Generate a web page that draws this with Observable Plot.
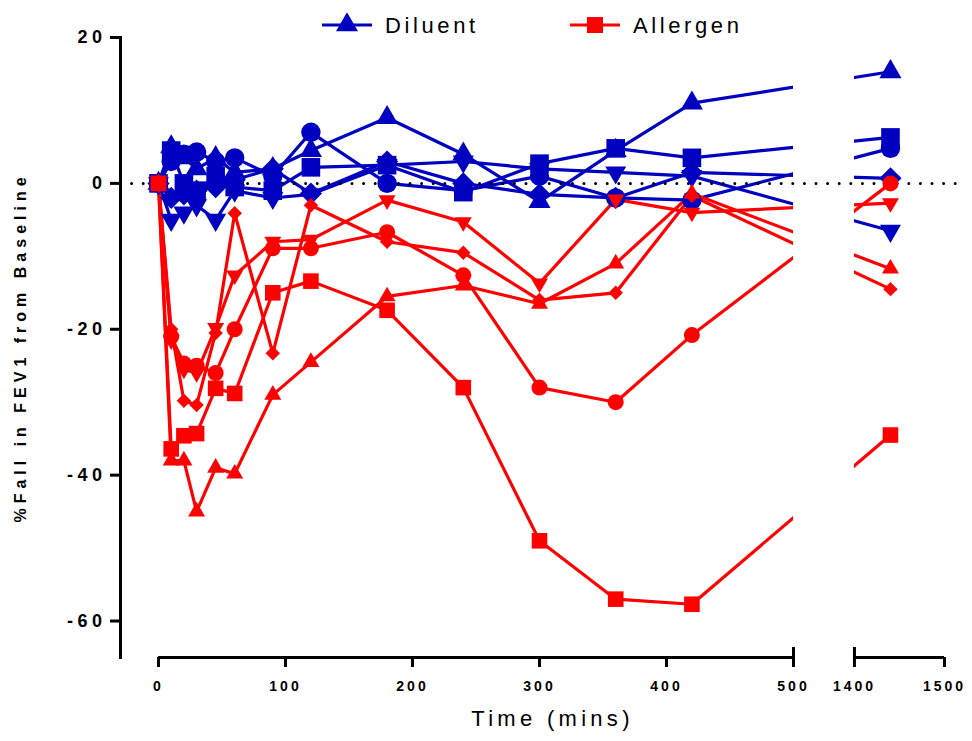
<!DOCTYPE html>
<html>
<head>
<meta charset="utf-8">
<script src="https://cdn.jsdelivr.net/npm/d3@7"></script>
<script src="https://cdn.jsdelivr.net/npm/@observablehq/plot@0.6"></script>
<style>
  html, body { margin: 0; padding: 0; background: #fff; }
  #wrap { position: relative; width: 972px; height: 741px; font-family: "Liberation Sans", Arial, sans-serif; }
  #legend { position: absolute; left: 0; top: 0; }
  #chart { position: absolute; left: 0; top: 0; }
  g[aria-label="y-axis tick label"] text { letter-spacing: 4.5px; }
  g[aria-label="x-axis tick label"] text { letter-spacing: 3px; }
</style>
</head>
<body>
<div id="wrap">
  <div id="chart"></div>
  <div id="legend"></div>
</div>
<script>
// ---- data ----
const times = [0, 10, 20, 30, 45, 60, 90, 120, 180, 240, 300, 360, 420, 1440];

const diluentTriangle = [0, 5, 3.5, 2, 3.5, 1.5, 2, 4.5, 9, 4, -2.5, 4.5, 11, 15.3];
const diluentSquare   = [0, 4.5, 0, -1, 1, -0.5, -1, 2.2, 2.5, -1.2, 2.7, 4.8, 3.5, 6.3];
const diluentCircle   = [0, 3, 4, 4.3, 3, 3.5, 1, 7, 0, -1, 1, -2, -2.3, 4.8];
const diluentTriDown  = [0, -5, -4, -3, -5, -1, -2, -1.5, 2.5, 3, 2, 1.5, 1, -6.5];
const diluentDiamond  = [0, -2, -1.5, -1, -0.5, 0.5, 2, -1.4, 3, 0, -1.5, -2, 1.5, 0.7];

const allergenSquare   = [0, -36.4, -34.6, -34.3, -28.1, -28.8, -15, -13.4, -17.4, -28, -49, -57, -57.7, -34.5];
const allergenTriangle = [0, -38, -38, -45, -39, -39.8, -29, -24.5, -15.5, -14, -16.5, -11, -1.4, -11.7];
const allergenCircle   = [0, -21, -24.7, -25, -26, -20, -8.9, -8.9, -6.7, -12.6, -28, -30, -20.8, 0];
const allergenTriDown  = [0, -21.5, -25.5, -26, -19.8, -12.6, -8, -7.7, -2.3, -5.3, -13.7, -2.2, -4, -2.7];
const allergenDiamond  = [0, -20, -29.8, -30.4, -20.5, -4.1, -23.3, -3, -8, -9.5, -16, -15, -1.7, -14.5];

const xTicks = [0, 100, 200, 300, 400, 500, 1400, 1500];
const yTicks = [20, 0, -20, -40, -60];
const xDomainEnd = 1500;
const breakStart = 500;
const breakEnd = 1400;
const yMin = -65;
const yMax = 20;

const groupLabels = ["Diluent", "Allergen"];
const xLabel = "Time (mins)";
const yLabel = "%Fall in FEV1 from Baseline";

// ---- broken-axis transform (scale setting, not data) ----
const gapUnits = 48;
const secondSegmentRatio = 0.709;
const brokenX = (t) => t <= breakStart ? t : breakStart + gapUnits + (t - breakEnd) * secondSegmentRatio;
const tickLabelOf = new Map(xTicks.map(t => [brokenX(t), String(t)]));

// ---- styles ----
const BLUE = "#0000c0";
const RED = "#ff0000";
const groups = [
  { name: "Diluent", color: BLUE, series: [
    { values: diluentTriangle, symbol: "triangle", r: 8.2, rotate: 0 },
    { values: diluentSquare,   symbol: "square",   r: 10.5, rotate: 0 },
    { values: diluentCircle,   symbol: "circle",   r: 9.7, rotate: 0 },
    { values: diluentTriDown,  symbol: "triangle", r: 7.8, rotate: 180 },
    { values: diluentDiamond,  symbol: "diamond2", r: 10, rotate: 0 }
  ]},
  { name: "Allergen", color: RED, series: [
    { values: allergenSquare,   symbol: "square",   r: 8.8, rotate: 0 },
    { values: allergenTriangle, symbol: "triangle", r: 6.3, rotate: 0 },
    { values: allergenCircle,   symbol: "circle",   r: 8, rotate: 0 },
    { values: allergenTriDown,  symbol: "triangle", r: 6.3, rotate: 180 },
    { values: allergenDiamond,  symbol: "diamond2", r: 6.5, rotate: 0 }
  ]}
];

const seriesMarks = [];
for (const g of groups) {
  g.series.forEach((s) => {
    const rows = times.map((t, k) => ({ time: t, value: s.values[k] }));
    seriesMarks.push({ rows, g, s });
  });
}

const marks = [];
for (const g of groups) {
  for (const sm of seriesMarks.filter(d => d.g === g)) {
    marks.push(Plot.line(sm.rows, { x: "time", y: "value", stroke: g.color, strokeWidth: 3.2 }));
  }
}
marks.push(Plot.rect([{ a: breakStart, b: breakEnd }], { x1: "a", x2: "b", fill: "white" }));
marks.push(Plot.ruleY([0], { stroke: "black", strokeWidth: 3, strokeDasharray: "0,11.6", strokeLinecap: "round" }));
for (const g of groups) {
  for (const sm of seriesMarks.filter(d => d.g === g)) {
    marks.push(Plot.dot(sm.rows, {
      x: "time", y: "value", symbol: sm.s.symbol, r: sm.s.r,
      fill: g.color, stroke: "none", rotate: sm.s.rotate
    }));
  }
}
// axes
marks.push(Plot.frame({ anchor: "left", strokeWidth: 3 }));
marks.push(Plot.ruleY([{ a: 0, b: breakStart }, { a: breakEnd, b: xDomainEnd }], { x1: "a", x2: "b", y: yMin, strokeWidth: 3 }));
marks.push(Plot.axisY({ ticks: yTicks, tickSize: 10, tickPadding: 4, strokeWidth: 3, fontSize: 18, fontWeight: "bold", tickFormat: d => String(d), label: null }));
marks.push(Plot.axisX({ ticks: xTicks.map(brokenX), tickSize: 10, tickPadding: 14, strokeWidth: 3, fontSize: 14, fontWeight: "bold", tickFormat: d => tickLabelOf.get(d) ?? "", label: null }));
marks.push(Plot.axisX({ ticks: [breakStart, breakEnd].map(brokenX), tickSize: 10, dy: -10, strokeWidth: 3, tickFormat: () => "", label: null }));
// axis titles
marks.push(Plot.text([yLabel], { frameAnchor: "left", dx: -100, rotate: -90, textAnchor: "middle", fontSize: 16, fontWeight: "bold", fill: "black", text: d => d }));
marks.push(Plot.text([xLabel], { frameAnchor: "bottom", dy: 68, dx: 10, textAnchor: "middle", fontSize: 22, fill: "black", text: d => d }));

const chart = Plot.plot({
  width: 972,
  height: 741,
  marginTop: 37,
  marginBottom: 84,
  marginLeft: 120,
  marginRight: 8,
  style: { fontFamily: "'Liberation Sans', Arial, sans-serif", background: "white", overflow: "visible" },
  x: { transform: brokenX, domain: [0, brokenX(xDomainEnd)], range: [158, 944] },
  y: { domain: [yMin, yMax], range: [657, 37] },
  marks
});
document.getElementById("chart").appendChild(chart);

chart.querySelectorAll('g[aria-label="text"] text').forEach((t) => {
  if (t.textContent === yLabel) t.style.letterSpacing = "5px";
  if (t.textContent === xLabel) t.style.letterSpacing = "4.3px";
});

// ---- legend ----
const legend = d3.select("#legend").append("svg").attr("width", 972).attr("height", 50);
const items = [
  { label: groupLabels[0], color: BLUE, symbol: d3.symbolTriangle, size: 210, x0: 322 },
  { label: groupLabels[1], color: RED, symbol: d3.symbolSquare, size: 256, x0: 570 }
];
for (const it of items) {
  const g = legend.append("g").attr("transform", `translate(${it.x0},25)`);
  g.append("line").attr("x1", 0).attr("x2", 50).attr("stroke", it.color).attr("stroke-width", 3);
  g.append("path").attr("d", d3.symbol(it.symbol, it.size)()).attr("transform", "translate(25,0)").attr("fill", it.color);
  g.append("text").attr("x", 63).attr("y", 8).attr("font-size", 22).attr("fill", "black")
    .attr("font-family", "'Liberation Sans', Arial, sans-serif").style("letter-spacing", "3.6px").text(it.label);
}
</script>
</body>
</html>
